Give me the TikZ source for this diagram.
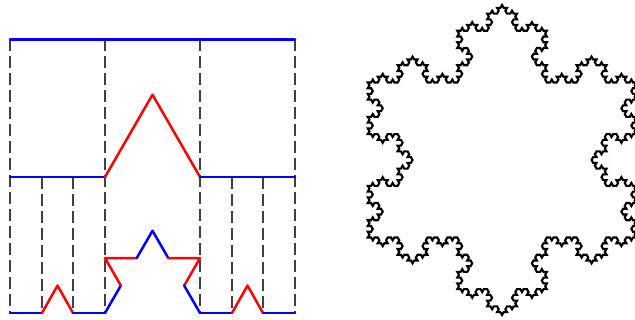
\documentclass[tikz,border=0pt]{standalone}
\usetikzlibrary{lindenmayersystems}

% Koch rule: every segment gets an outward equilateral bump on its middle third
\pgfdeclarelindenmayersystem{koch flake}{\rule{F -> F-F++F-F}}

\begin{document}
\begin{tikzpicture}[x=1pt,y=1pt,
  kept/.style={blue, line width=2.5pt, line cap=round, line join=round},
  added/.style={red, line width=2.5pt, line cap=round, line join=round},
  guide/.style={black!75, line width=1.4pt, dash pattern=on 12pt off 5pt},
  flake/.style={black, line width=2.1pt, line join=miter}]
\useasboundingbox (0,0) rectangle (635,320);

% ---------- construction levels ----------
% level 0 (top line)
\coordinate (t0) at (10,280.5);
\coordinate (t3) at (295,280.5);
% level 1
\coordinate (m0) at (10,143);
\coordinate (m1) at (105,143);
\coordinate (mp) at (152.5,225.3);
\coordinate (m2) at (200,143);
\coordinate (m3) at (295,143);
% level 2 (bottom)
\coordinate (b0)  at (10,7);
\coordinate (b1)  at (42,7);
\coordinate (bp1) at (57.5,34.4);
\coordinate (b2)  at (73,7);
\coordinate (b3)  at (105,7);
\coordinate (cB)  at (120.83,34.42);
\coordinate (cK)  at (105,61.85);
\coordinate (cC)  at (136.67,61.85);
\coordinate (cD)  at (152.5,89.27);
\coordinate (cF)  at (168.33,61.85);
\coordinate (cL)  at (200,61.85);
\coordinate (cG)  at (184.17,34.42);
\coordinate (b4)  at (200,7);
\coordinate (b5)  at (232,7);
\coordinate (bp2) at (247.5,34.4);
\coordinate (b6)  at (263,7);
\coordinate (b7)  at (295,7);

% dashed guides
\foreach \a/\b in {t0/b0, t3/b7} \draw[guide] (\a) -- (\b);
\draw[guide] (105,280.5) -- (b3);
\draw[guide] (200,280.5) -- (b4);
\draw[guide] (42,143) -- (b1);
\draw[guide] (73,143) -- (b2);
\draw[guide] (232,143) -- (b5);
\draw[guide] (263,143) -- (b6);

% level 0
\draw[kept] (t0) -- (t3);
% level 1
\draw[kept] (m0) -- (m1);
\draw[added] (m1) -- (mp) -- (m2);
\draw[kept] (m2) -- (m3);
% level 2
\draw[kept] (b0) -- (b1);
\draw[added] (b1) -- (bp1) -- (b2);
\draw[kept] (b2) -- (b3);
\draw[kept] (b3) -- (cB);
\draw[added] (cB) -- (cK) -- (cC);
\draw[kept] (cC) -- (cD) -- (cF);
\draw[added] (cF) -- (cL) -- (cG);
\draw[kept] (cG) -- (b4);
\draw[kept] (b4) -- (b5);
\draw[added] (b5) -- (bp2) -- (b6);
\draw[kept] (b6) -- (b7);

% ---------- Koch snowflake, order 4 ----------
\begin{scope}[shift={(367.8,82.5)}]
  \coordinate (flakestart) at (0,0);
  \draw[flake, l-system={koch flake, axiom=F++F++F, order=4, step=3.315pt, angle=60}]
    (flakestart) lindenmayer system -- cycle;
\end{scope}
\end{tikzpicture}
\end{document}
